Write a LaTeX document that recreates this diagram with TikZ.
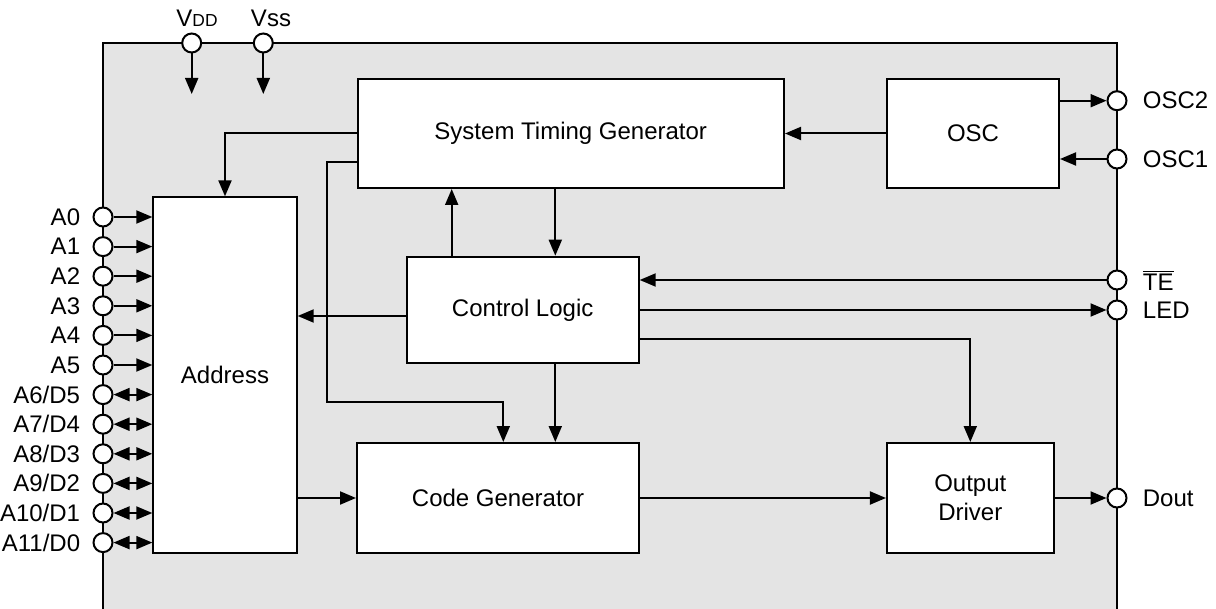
\documentclass[tikz,border=0pt]{standalone}
\usepackage{fontspec}
\setmainfont{Liberation Sans}
\usetikzlibrary{arrows.meta, positioning}
\definecolor{chipbg}{RGB}{228,228,228}

\begin{document}
\begin{tikzpicture}[
        x=0.5pt, y=-0.5pt,
        >={Triangle[length=8pt, width=6.5pt]},
        blk/.style={rectangle, draw, fill=white, line width=1pt, align=center,
            font=\fontsize{12}{14.5}\selectfont},
        pin/.style={circle, draw, fill=white, line width=1pt, minimum size=9.5pt, inner sep=0pt},
        lbl/.style={font=\fontsize{12}{14.5}\selectfont, inner sep=0pt},
        e/.style={->, line width=1pt}
    ]
        \useasboundingbox (0,0) rectangle (1216,609);
        \clip (0,0) rectangle (1216,609);

        % chip outline
        \fill[chipbg] (103,43) rectangle (1117,640);
        \draw[line width=1pt] (103,640) -- (103,43) -- (1117,43) -- (1117,640);

        % blocks
        \node[blk, minimum width=213.25pt, minimum height=54.5pt] (stg) at (570.75,133.5) {System Timing Generator};
        \node[blk, minimum width=86pt, minimum height=54.5pt] (osc) at (973,133.5) {OSC};
        \node[blk, minimum width=71.7pt, minimum height=177.85pt] (addr) at (225,375.2) {Address};
        \node[blk, minimum width=116pt, minimum height=53.3pt] (cl) at (522.7,310) {Control Logic};
        \node[blk, minimum width=141pt, minimum height=55pt] (cg) at (498,498) {Code Generator};
        \node[blk, minimum width=83.35pt, minimum height=55pt] (od) at (970.3,498) {Output\\Driver};

        % supply pins
        \node[pin] (vdd) at (191.7,43) {};
        \node[pin] (vss) at (263.3,43) {};
        \node[lbl] (lvdd) at (197,18) {V{\fontsize{8.7}{10}\selectfont DD}};
        \node[lbl] (lvss) at (271,18) {Vss};
        \coordinate (vddend) at (191.7,94);
        \coordinate (vssend) at (263.3,94);
        \draw[e] (vdd) -- (vddend);
        \draw[e] (vss) -- (vssend);

        % address pins
        \foreach \lab [count=\i from 0] in {A0,A1,A2,A3,A4,A5} {
            \node[pin] (a\i) at (103,{217+29.6*\i}) {};
            \node[lbl, left=6pt of a\i] (la\i) {\lab};
            \draw[e] (a\i) -- (a\i -| addr.west);
        }
        \foreach \lab [count=\i from 6] in {{A6/D5},{A7/D4},{A8/D3},{A9/D2},{A10/D1},{A11/D0}} {
            \node[pin] (a\i) at (103,{217+29.6*\i}) {};
            \node[lbl, left=6pt of a\i] (la\i) {\lab};
            \draw[e, <->] (a\i) -- (a\i -| addr.west);
        }

        % right pins
        \node[pin] (osc2) at (1117,100.7) {};
        \node[pin] (osc1) at (1117,159) {};
        \node[pin] (te) at (1117,280) {};
        \node[pin] (led) at (1117,310) {};
        \node[pin] (dout) at (1117,498) {};
        \node[lbl, right=7.5pt of osc2] (losc2) {OSC2};
        \node[lbl, right=7.5pt of osc1] (losc1) {OSC1};
        \node[lbl, right=7.5pt of te] (lte) {$\overline{\mbox{TE}}$};
        \node[lbl, right=7.5pt of led] (lled) {LED};
        \node[lbl, right=7.5pt of dout] (ldout) {Dout};

        % oscillator
        \draw[e] (osc.east |- osc2) -- (osc2);
        \draw[e] (osc1) -- (osc1 -| osc.east);
        \draw[e] (osc.west) -- (stg.east);

        % timing generator
        \draw[e] (stg.west) -| (addr.north);
        \draw[e] ([yshift=-14.25pt]stg.west) -| (327,402) -| ([xshift=2.65pt]cg.north);
        \draw[e] ([xshift=16.3pt]cl.north |- stg.south) -- ([xshift=16.3pt]cl.north);

        % control logic
        \draw[e] ([xshift=-35.5pt]cl.north) -- ([xshift=-35.5pt]cl.north |- stg.south);
        \draw[e] ([yshift=-3pt]cl.west) -- ([yshift=-3pt]cl.west -| addr.east);
        \draw[e] ([xshift=16.3pt]cl.south) -- ([xshift=16.3pt]cl.south |- cg.north);
        \draw[e] (te) -- (te -| cl.east);
        \draw[e] (cl.east) -- (led);
        \draw[e] ([yshift=-14.5pt]cl.east) -| (od.north);

        % data path
        \draw[e] (addr.east |- cg.west) -- (cg.west);
        \draw[e] (cg.east) -- (od.west);
        \draw[e] (od.east) -- (dout);
    \end{tikzpicture}
\end{document}
